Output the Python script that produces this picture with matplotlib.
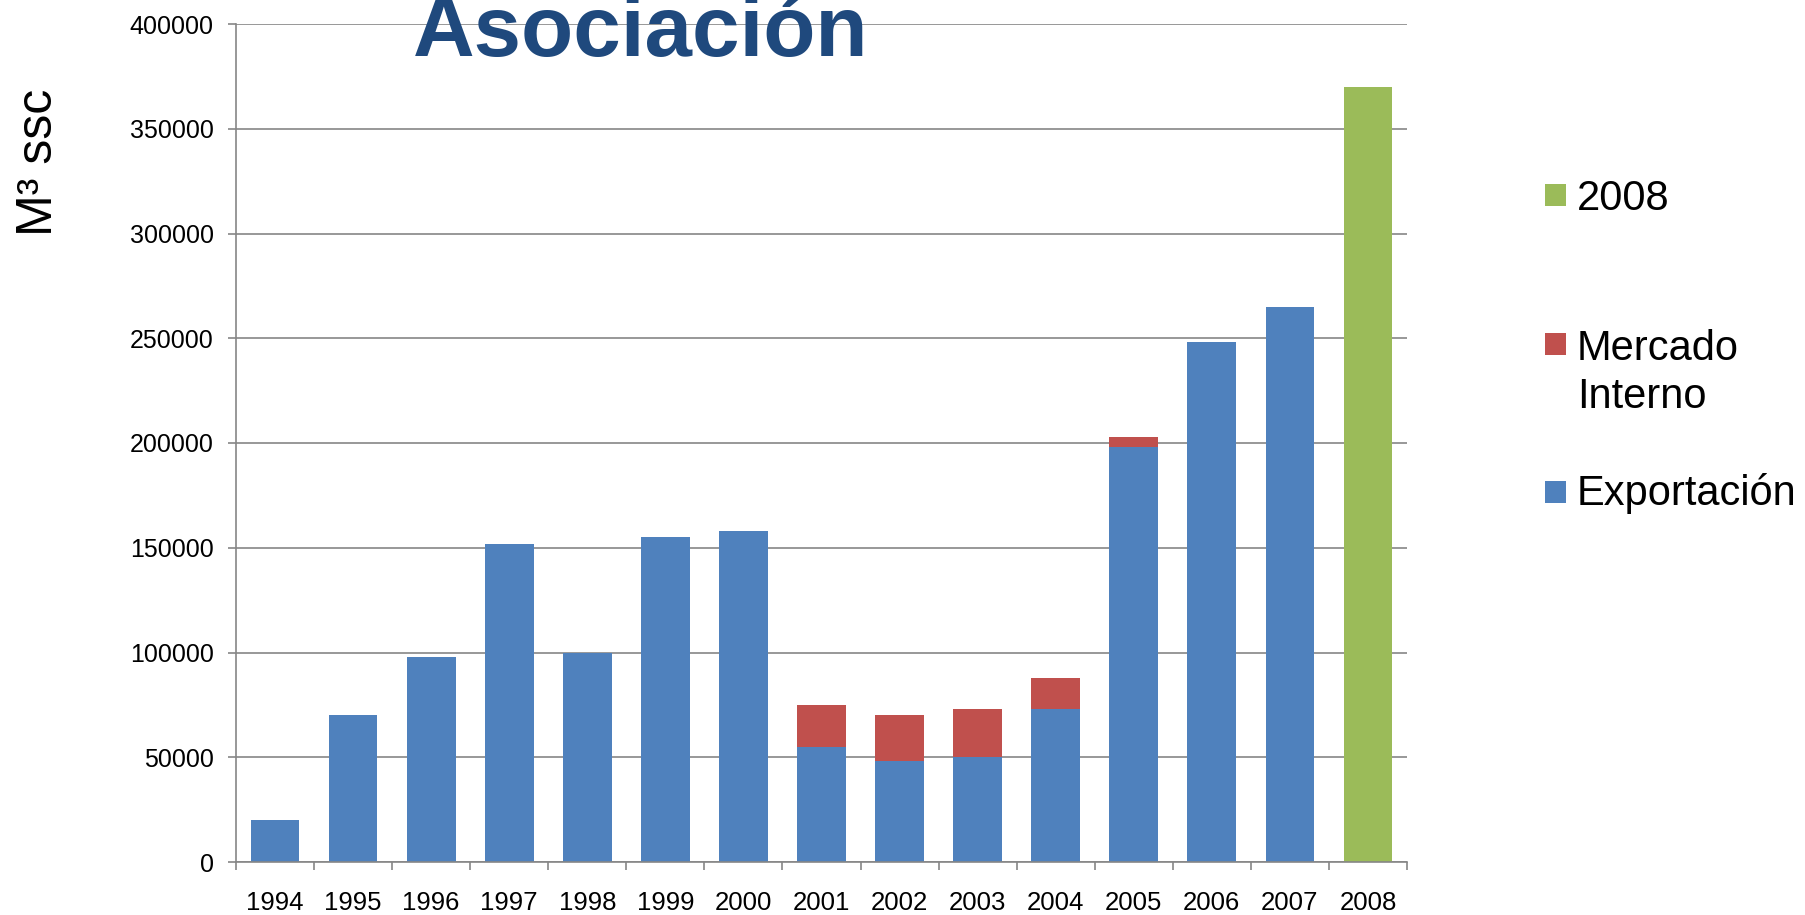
import matplotlib
matplotlib.use("Agg")
import matplotlib.pyplot as plt
from matplotlib.patches import Rectangle
import numpy as np

plt.rcParams['font.family'] = ['Liberation Sans', 'DejaVu Sans']

years = ['1994', '1995', '1996', '1997', '1998', '1999', '2000', '2001',
         '2002', '2003', '2004', '2005', '2006', '2007', '2008']
exportacion = [20000, 70000, 98000, 152000, 100000, 155000, 158000, 55000,
               48000, 50000, 73000, 198000, 248000, 265000, 0]
mercado_interno = [0, 0, 0, 0, 0, 0, 0, 20000, 22000, 23000, 15000, 5000, 0, 0, 0]
total_2008 = [0, 0, 0, 0, 0, 0, 0, 0, 0, 0, 0, 0, 0, 0, 370000]
yticks = [0, 50000, 100000, 150000, 200000, 250000, 300000, 350000, 400000]

c_blue = '#4F81BD'
c_red = '#C0504D'
c_green = '#9BBB59'
grid_c = '#868686'

W, H = 1805, 915
fig = plt.figure(figsize=(W / 100, H / 100), dpi=100)
ax = fig.add_axes([236 / W, 1 - 862 / H, (1407 - 236) / W, (862 - 24) / H])

x = np.arange(len(years))
bw = 0.625
exp = np.array(exportacion)
mi = np.array(mercado_interno)
ax.bar(x, exp, width=bw, color=c_blue, zorder=2)
ax.bar(x, mi, width=bw, bottom=exp, color=c_red, zorder=2)
ax.bar(x, total_2008, width=bw, color=c_green, zorder=2)

ax.set_xlim(-0.5, len(years) - 0.5)
ax.set_ylim(0, 400000)
ax.set_yticks(yticks)
ax.set_yticklabels([str(v) for v in yticks], fontsize=18)
ax.set_xticks(x)
ax.set_xticklabels(years, fontsize=18.5)
ax.set_xticks(np.arange(-0.5, len(years)), minor=True)
ax.tick_params(axis='x', which='major', length=0, pad=21)
ax.tick_params(axis='x', which='minor', length=6, width=1.2, color=grid_c, direction='out')
ax.tick_params(axis='y', which='major', length=6, width=1.2, color=grid_c, direction='out', pad=10)

ax.set_axisbelow(True)
ax.yaxis.grid(True, color=grid_c, linewidth=1.2, zorder=0)
for s in ['top', 'right']:
    ax.spines[s].set_visible(False)
for s in ['left', 'bottom']:
    ax.spines[s].set_color(grid_c)
    ax.spines[s].set_linewidth(1.2)

# y label
fig.text(39 / W, 1 - 162 / H, 'M³ ssc', rotation=90, fontsize=36,
         ha='center', va='center')

# title (clipped at top as in the reference)
fig.text(641 / W, 1 - 56 / H, 'Asociación', fontsize=61.5, fontweight='bold',
         color='#1F497D', ha='center', va='baseline')

# legend (manual)
leg_items = [(c_green, ['2008'], 195, [210]),
             (c_red, ['Mercado', 'Interno'], 344, [360, 408]),
             (c_blue, ['Exportación'], 492, [505])]
for col, lines, yc, baselines in leg_items:
    fig.patches.append(Rectangle((1545 / W, 1 - (yc + 11) / H), 21 / W, 22 / H,
                                 transform=fig.transFigure, facecolor=col,
                                 edgecolor='none'))
    for ln, bl in zip(lines, baselines):
        fig.text(1577 / W, 1 - bl / H, ln, fontsize=30, ha='left', va='baseline')

fig.savefig('out.png', dpi=100)
